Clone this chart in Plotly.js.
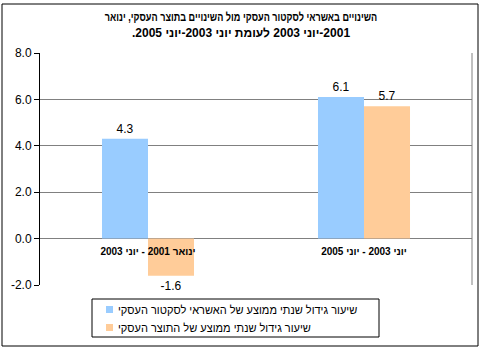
<!DOCTYPE html>
<html>
<head>
<meta charset="utf-8">
<script src="https://cdn.plot.ly/plotly-3.0.1.min.js"></script>
<style>
  html, body { margin: 0; padding: 0; background: #ffffff; }
  #chart { width: 482px; height: 351px; }
  /* the reference's Hebrew title face is narrower than the installed one */
  #chart .gtitle {
    transform-box: fill-box;
    transform-origin: 50% 50%;
    transform: scaleX(0.76) !important;
  }
</style>
</head>
<body>
<div id="chart"></div>
<script>
// ---- data ----
const categories = ['ינואר 2001 - יוני 2003', 'יוני 2003 - יוני 2005'];
const creditGrowth = [4.3, 6.1];
const outputGrowth = [-1.6, 5.7];
const seriesNames = [
  'שיעור גידול שנתי ממוצע של האשראי לסקטור העסקי',
  'שיעור גידול שנתי ממוצע של התוצר העסקי'
];
const yTicks = [-2, 0, 2, 4, 6, 8];
const titleLines = [
  'השינויים באשראי לסקטור העסקי מול השינויים בתוצר העסקי, ינואר',
  '2001-יוני 2003 לעומת יוני 2003-יוני 2005.'
];

// ---- styling ----
const RLE = '\u202B', PDF = '\u202C';
const rtl = s => RLE + s + PDF;
const FONT = "Liberation Sans, Arial, sans-serif";
const colors = ['#99CCFF', '#FFCC99'];

const W = 482, H = 351;
const M = {l: 40, r: 10, t: 53, b: 66};
const PW = W - M.l - M.r, PH = H - M.t - M.b;
const px = x => (x - M.l) / PW;
const py = y => (H - M.b - y) / PH;

const traces = [creditGrowth, outputGrowth].map((vals, i) => ({
  type: 'bar',
  x: categories.map(rtl),
  y: vals,
  name: seriesNames[i],
  marker: {color: colors[i], line: {width: 0}},
  text: vals.map(v => v.toFixed(1)),
  textposition: 'outside',
  textfont: {family: FONT, size: 12, color: '#000000'},
  cliponaxis: false,
  hoverinfo: 'none'
}));

const shapes = [
  // outer frame
  {type: 'rect', xref: 'paper', yref: 'paper',
   x0: px(2), x1: px(478), y0: py(346), y1: py(4),
   line: {color: '#000000', width: 1}, fillcolor: 'rgba(0,0,0,0)'},
  // right border of plot area
  {type: 'line', xref: 'paper', yref: 'paper', x0: 1, x1: 1, y0: 0, y1: 1,
   line: {color: '#808080', width: 1}},
  // legend box
  {type: 'rect', xref: 'paper', yref: 'paper',
   x0: px(92), x1: px(379), y0: py(337), y1: py(299),
   line: {color: '#000000', width: 1}, fillcolor: '#ffffff'}
];
const annotations = [];
// second title line
annotations.push({xref: 'paper', yref: 'paper', x: px(241), y: py(33),
  xanchor: 'center', yanchor: 'middle', showarrow: false,
  text: rtl(titleLines[1]),
  font: {family: FONT, size: 12, color: '#000000', weight: 'bold'}});
const legendRows = [309.5, 327.5];
seriesNames.forEach((name, i) => {
  const cy = legendRows[i];
  shapes.push({type: 'rect', xref: 'paper', yref: 'paper',
    x0: px(106), x1: px(113), y0: py(cy + 3.5), y1: py(cy - 3.5),
    line: {width: 0}, fillcolor: colors[i]});
  annotations.push({xref: 'paper', yref: 'paper', x: px(116), y: py(cy),
    xanchor: 'left', yanchor: 'middle', showarrow: false,
    text: rtl(name), font: {family: FONT, size: 11, color: '#000000'}});
});

const layout = {
  width: W, height: H,
  margin: M,
  paper_bgcolor: '#ffffff', plot_bgcolor: '#ffffff',
  font: {family: FONT, size: 12, color: '#000000'},
  title: {
    text: rtl(titleLines[0]),
    font: {family: FONT, size: 12, color: '#000000', weight: 'bold'},
    x: 0.5, xref: 'container', xanchor: 'center',
    y: 1 - 17 / H, yref: 'container', yanchor: 'middle'
  },
  barmode: 'group',
  bargap: 0.574,
  bargroupgap: 0,
  showlegend: false,
  xaxis: {
    type: 'category',
    anchor: 'free',
    position: (0 - yTicks[0]) / (yTicks[yTicks.length - 1] - yTicks[0]),
    showline: false, showgrid: false, zeroline: false,
    ticks: '', ticklabelstandoff: 5,
    tickfont: {family: FONT, size: 10, color: '#000000', weight: 'bold'},
    fixedrange: true
  },
  yaxis: {
    range: [yTicks[0], yTicks[yTicks.length - 1]],
    tickvals: yTicks,
    ticktext: yTicks.map(v => v.toFixed(1)),
    showline: true, linecolor: '#000000', linewidth: 1,
    ticks: 'outside', ticklen: 5, tickcolor: '#000000', tickwidth: 1,
    showgrid: true, gridcolor: '#808080', gridwidth: 1,
    zeroline: false,
    tickfont: {family: FONT, size: 12, color: '#000000'},
    fixedrange: true
  },
  shapes: shapes,
  annotations: annotations
};

Plotly.newPlot('chart', traces, layout, {displayModeBar: false, staticPlot: true});
</script>
</body>
</html>
